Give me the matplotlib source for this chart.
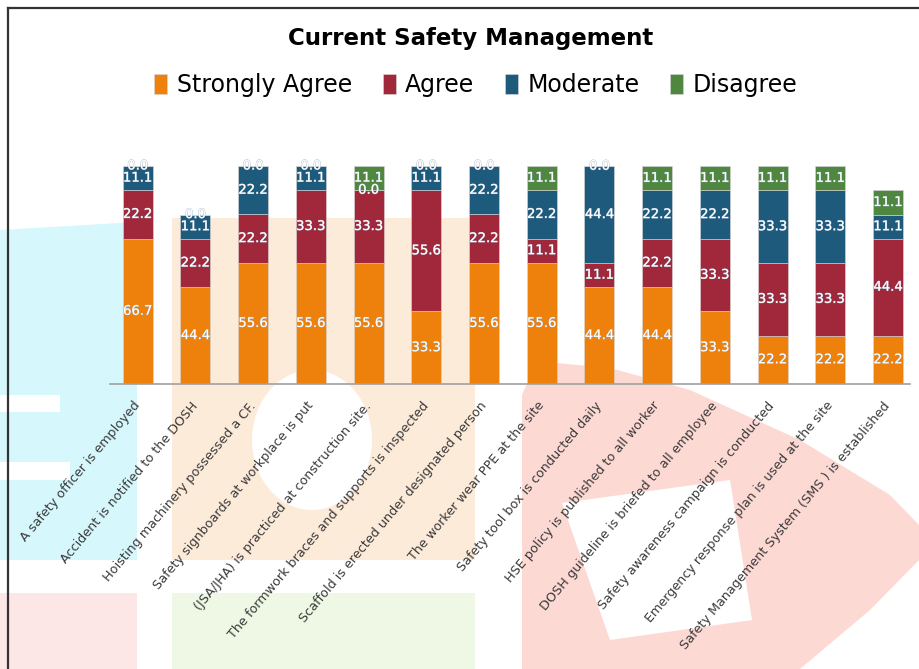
import matplotlib
matplotlib.use("Agg")
import matplotlib.pyplot as plt
import matplotlib.patheffects as pe
from matplotlib.patches import Polygon, Ellipse
import numpy as np

# ---------- data ----------
items = [
    "A safety officer is employed",
    "Accident is notified to the DOSH",
    "Hoisting machinery possessed a CF.",
    "Safety signboards at workplace is put",
    "(JSA/JHA) is practiced at construction site.",
    "The formwork braces and supports is inspected",
    "Scaffold is erected under designated person",
    "The worker wear PPE at the site",
    "Safety tool box is conducted daily",
    "HSE policy is published to all worker",
    "DOSH guideline is briefed to all employee",
    "Safety awareness campaign is conducted",
    "Emergency response plan is used at the site",
    "Safety Management System (SMS ) is established",
]
strongly_agree = [66.7, 44.4, 55.6, 55.6, 55.6, 33.3, 55.6, 55.6, 44.4, 44.4, 33.3, 22.2, 22.2, 22.2]
agree          = [22.2, 22.2, 22.2, 33.3, 33.3, 55.6, 22.2, 11.1, 11.1, 22.2, 33.3, 33.3, 33.3, 44.4]
moderate       = [11.1, 11.1, 22.2, 11.1, 0.0, 11.1, 22.2, 22.2, 44.4, 22.2, 22.2, 33.3, 33.3, 11.1]
disagree       = [0.0, 0.0, 0.0, 0.0, 11.1, 0.0, 0.0, 11.1, 0.0, 11.1, 11.1, 11.1, 11.1, 11.1]

series = [
    ("Strongly Agree", strongly_agree, "#EE800C"),
    ("Agree", agree, "#A0283A"),
    ("Moderate", moderate, "#1E5A7C"),
    ("Disagree", disagree, "#4F8640"),
]

W, H = 919, 669
fig = plt.figure(figsize=(W / 100, H / 100), dpi=100)


def px(x, y):
    # pixel (from top-left) -> figure fraction
    return (x / W, 1 - y / H)


def poly(pts, color):
    p = Polygon([px(*q) for q in pts], closed=True, transform=fig.transFigure,
                facecolor=color, edgecolor="none", zorder=0)
    fig.add_artist(p)


# ---------- faint watermark in the background ----------
poly([(0, 230), (137, 222), (137, 560), (0, 560)], "#D6F7FC")
poly([(0, 395), (60, 395), (60, 412), (0, 412)], "white")
poly([(0, 462), (70, 462), (70, 480), (0, 480)], "white")
poly([(172, 218), (475, 218), (475, 560), (172, 560)], "#FDEBDA")
fig.add_artist(Ellipse(px(312, 440), 120 / W, 140 / H, transform=fig.transFigure,
                       facecolor="white", edgecolor="none", zorder=0))
poly([(522, 669), (522, 395), (532, 372), (556, 363), (610, 368), (690, 390),
      (800, 440), (890, 495), (919, 525), (919, 560), (870, 610), (800, 669)], "#FDD9D4")
poly([(562, 503), (730, 480), (752, 620), (610, 640)], "white")
poly([(172, 593), (475, 593), (475, 669), (172, 669)], "#EEF8E5")
poly([(0, 593), (137, 593), (137, 669), (0, 669)], "#FDE6E6")

# frame lines
fig.add_artist(plt.Line2D([px(8, 8)[0], 1], [px(8, 8)[1]] * 2, transform=fig.transFigure,
                          color="#333333", lw=1.6, zorder=1))
fig.add_artist(plt.Line2D([px(8, 8)[0]] * 2, [0, px(8, 8)[1]], transform=fig.transFigure,
                          color="#333333", lw=1.6, zorder=1))

# ---------- bars ----------
ax = fig.add_axes([110 / W, 1 - 384 / H, (910 - 110) / W, (384 - 130) / H])
ax.set_facecolor("none")
ax.set_zorder(2)

x = np.arange(len(items))
bottom = np.zeros(len(items))
for name, vals, color in series:
    vals = np.array(vals)
    ax.bar(x, vals, 0.52, bottom=bottom, color=color, label=name,
           edgecolor="#d8d8d8", linewidth=0.4)
    for xi, b, v in zip(x, bottom, vals):
        ax.text(xi, b + v / 2, f"{v:.1f}", ha="center", va="center",
                fontsize=9.5, color="white",
                path_effects=[pe.withStroke(linewidth=0.5, foreground="#9fb2c6")])
    bottom += vals

ax.set_xlim(-0.48, 13.38)
ax.set_ylim(0, 116.5)
ax.set_yticks([])
ax.set_xticks(x)
ax.set_xticklabels(items, rotation=50, rotation_mode="anchor", ha="right",
                   va="center", fontsize=9.2, color="#3a3a3a")
ax.tick_params(axis="x", length=0, pad=14)
for s in ["top", "right", "left"]:
    ax.spines[s].set_visible(False)
ax.spines["bottom"].set_color("#a0a0a0")
ax.spines["bottom"].set_linewidth(1.2)

# ---------- title and legend ----------
fig.text(px(471, 38)[0], px(471, 38)[1], "Current Safety Management",
         ha="center", va="center", fontsize=16.5, fontweight="bold", color="black")
fig.legend(loc="center", bbox_to_anchor=px(476, 85), ncol=4, frameon=False,
           fontsize=17, handlelength=0.55, handleheight=0.9, handletextpad=0.4,
           columnspacing=1.3)

fig.savefig("out.png", dpi=100)
